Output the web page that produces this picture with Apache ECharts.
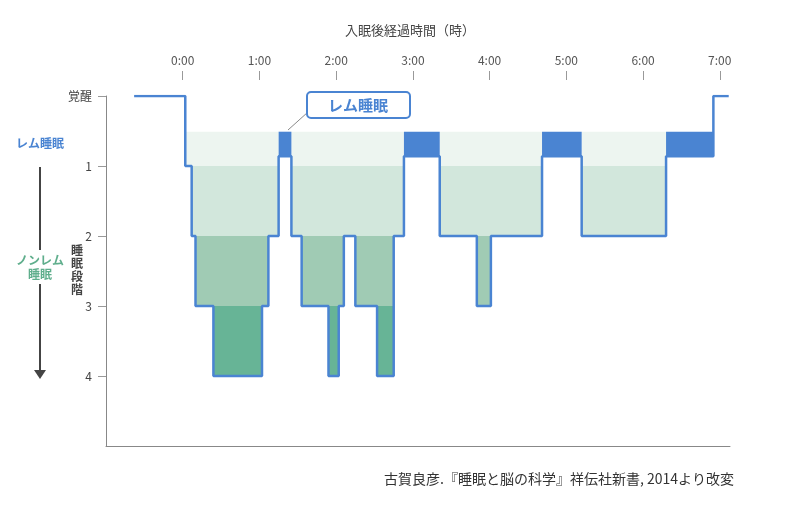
<!DOCTYPE html>
<html>
<head>
<meta charset="utf-8">
<script src="https://cdn.jsdelivr.net/npm/echarts@6/dist/echarts.min.js"></script>
<style>html,body{margin:0;padding:0;background:#fff}#main{width:800px;height:505px}</style>
</head>
<body>
<div id="main"></div>
<script>
// 入眠後経過時間（分）: 各区間の開始時刻、最後は終了時刻
var times = [-38, 2, 7, 10, 24, 62, 67, 75, 85, 93, 114, 122, 126, 135, 152, 165, 173, 201, 230, 241, 281, 312, 378, 415, 427];
// 各区間の睡眠段階 (W=覚醒, R=レム)
var stages = ['W', 1, 2, 3, 4, 3, 2, 'R', 2, 3, 4, 3, 2, 3, 4, 2, 'R', 2, 3, 2, 'R', 2, 'R', 'W'];
var hourTicks = [0, 60, 120, 180, 240, 300, 360, 420];
var stageTicks = ['覚醒', '1', '2', '3', '4'];

var REM_TOP = 0.51, REM_BOTTOM = 0.86;
var blue = '#4a84d2';
var fonts = '"Noto Sans CJK JP", sans-serif';

function lineLevel(s) { return s === 'W' ? 0 : s === 'R' ? REM_BOTTOM : s; }
function depth(s) { return (s === 'W' || s === 'R') ? 0 : s; }

// 段階ごとの帯 (深さが to 以上の区間を塗る)
var bands = [
    {from: REM_TOP, to: 1, color: '#edf5f0'},
    {from: 1, to: 2, color: '#d2e7dc'},
    {from: 2, to: 3, color: '#a0cbb4'},
    {from: 3, to: 4, color: '#67b496'}
];
var rects = [];
bands.forEach(function (b) {
    var start = null;
    for (var i = 0; i <= stages.length; i++) {
        var ok = i < stages.length && depth(stages[i]) >= b.to;
        if (ok && start === null) start = times[i];
        if (!ok && start !== null) { rects.push([start, times[i], b.from, b.to, b.color]); start = null; }
    }
});
for (var i = 0; i < stages.length; i++) {
    if (stages[i] === 'R') rects.push([times[i], times[i + 1], REM_TOP, REM_BOTTOM, blue]);
}
var lineData = stages.map(function (s, i) { return [times[i], lineLevel(s)]; });
lineData.push([times[times.length - 1], 0]);

var myChart = echarts.init(document.getElementById('main'));
var option = {
    animation: false,
    textStyle: {fontFamily: fonts},
    grid: {left: 106, right: 70, top: 96, bottom: 59},
    xAxis: [{
        type: 'value', position: 'top', min: -60, max: 428, offset: 16,
        axisLine: {show: false, onZero: false},
        axisTick: {show: true, length: 9, customValues: hourTicks, lineStyle: {color: '#999'}},
        axisLabel: {customValues: hourTicks, color: '#555', fontSize: 12, margin: 14,
            formatter: function (v) { return (v / 60) + ':00'; }},
        splitLine: {show: false}
    }, {
        type: 'value', position: 'bottom', min: -60, max: 428,
        axisLine: {show: true, onZero: false, lineStyle: {color: '#888', width: 1}},
        axisTick: {show: false}, axisLabel: {show: false}, splitLine: {show: false}
    }],
    yAxis: {
        type: 'value', inverse: true, min: 0, max: 5, position: 'left',
        axisLine: {show: true, onZero: false, lineStyle: {color: '#888', width: 1}},
        axisTick: {show: true, length: 8, customValues: [0, 1, 2, 3, 4], lineStyle: {color: '#999'}},
        axisLabel: {customValues: [0, 1, 2, 3, 4], color: '#444', fontSize: 12, margin: 14,
            formatter: function (v) { return stageTicks[v]; }},
        splitLine: {show: false}
    },
    graphic: [
        {type: 'text', x: 410, y: 30, style: {text: '入眠後経過時間（時）', font: '13px ' + fonts, fill: '#444', align: 'center', verticalAlign: 'middle'}},
        {type: 'line', shape: {x1: 288, y1: 130, x2: 308, y2: 112}, style: {stroke: '#888', lineWidth: 1}},
        {type: 'rect', shape: {x: 307, y: 92, width: 103, height: 26, r: 4}, style: {fill: '#fff', stroke: blue, lineWidth: 2}},
        {type: 'text', x: 358, y: 105, style: {text: 'レム睡眠', font: 'bold 15px ' + fonts, fill: blue, align: 'center', verticalAlign: 'middle'}},
        {type: 'text', x: 40, y: 143, style: {text: 'レム睡眠', font: 'bold 12px ' + fonts, fill: blue, align: 'center', verticalAlign: 'middle'}},
        {type: 'line', shape: {x1: 40, y1: 167, x2: 40, y2: 372}, style: {stroke: '#444', lineWidth: 2}},
        {type: 'polygon', shape: {points: [[34, 370], [46, 370], [40, 379]]}, style: {fill: '#444'}},
        {type: 'rect', shape: {x: 14, y: 250, width: 52, height: 34}, style: {fill: '#fff'}},
        {type: 'text', x: 40, y: 267, style: {text: 'ノンレム\n睡眠', font: 'bold 12px ' + fonts, fill: '#5fae8c', align: 'center', verticalAlign: 'middle', lineHeight: 14}},
        {type: 'text', x: 77, y: 270, style: {text: '睡\n眠\n段\n階', font: 'bold 12px ' + fonts, fill: '#444', align: 'center', verticalAlign: 'middle', lineHeight: 13}},
        {type: 'text', right: 66, top: 472, style: {text: '古賀良彦.『睡眠と脳の科学』祥伝社新書, 2014より改変', font: '14px ' + fonts, fill: '#333'}}
    ],
    series: [{
        type: 'custom', xAxisIndex: 0, data: rects, z: 1,
        renderItem: function (params, api) {
            var p1 = api.coord([api.value(0), api.value(2)]);
            var p2 = api.coord([api.value(1), api.value(3)]);
            return {type: 'rect', shape: {x: p1[0], y: p1[1], width: p2[0] - p1[0], height: p2[1] - p1[1]},
                style: {fill: rects[params.dataIndex][4]}};
        }
    }, {
        type: 'line', xAxisIndex: 0, step: 'end', data: lineData, symbol: 'none', z: 3,
        lineStyle: {color: blue, width: 2.5}
    }]
};
myChart.setOption(option);
</script>
</body>
</html>
